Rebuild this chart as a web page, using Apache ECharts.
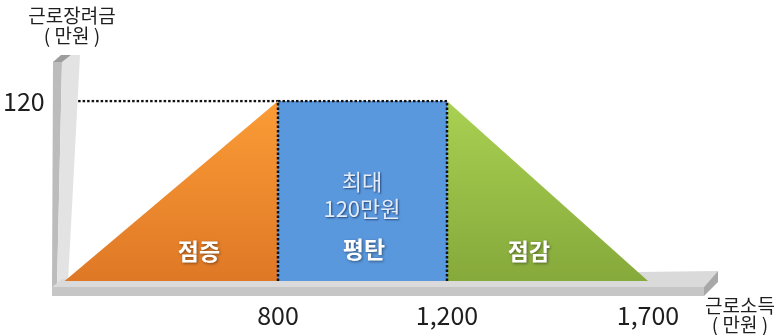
<!DOCTYPE html>
<html>
<head>
<meta charset="utf-8">
<script src="https://cdn.jsdelivr.net/npm/echarts@6/dist/echarts.min.js"></script>
<style>
  html, body { margin: 0; padding: 0; background: #fff; }
  #chart { width: 779px; height: 335px; }
</style>
</head>
<body>
<div id="chart"></div>
<script>
// Income thresholds (만원): phase-in start, plateau start, plateau end, phase-out end
const incomeBreaks = [0, 800, 1200, 1700];
// Credit (만원) at each threshold
const creditAmounts = [0, 120, 120, 0];
// Phase names for the three segments
const phaseNames = ['점증', '평탄', '점감'];
// Tick values shown on the axes
const incomeTicks = [800, 1200, 1700];
const creditTicks = [120];

const FONT = '"Noto Sans CJK KR", "Noto Sans", sans-serif';
const chart = echarts.init(document.getElementById('chart'), null, { renderer: 'canvas' });

// Each phase gets its own panel so the schematic widths can differ
const panels = [
  { left: 63, width: 215 },
  { left: 278, width: 169 },
  { left: 447, width: 201 }
];
const PLOT_TOP = 101, PLOT_H = 180;

const fills = [
  new echarts.graphic.LinearGradient(0, 0, 0, 1, [
    { offset: 0, color: '#fb9c36' }, { offset: 1, color: '#df7826' }]),
  '#5a98de',
  new echarts.graphic.LinearGradient(0, 0, 0, 1, [
    { offset: 0, color: '#a9d152' }, { offset: 1, color: '#86a93b' }])
];

const grid = panels.map(p => ({ left: p.left, width: p.width, top: PLOT_TOP, height: PLOT_H }));

const xAxis = panels.map((p, i) => ({
  type: 'value',
  gridIndex: i,
  min: incomeBreaks[i],
  max: incomeBreaks[i + 1],
  axisLine: { show: false },
  axisTick: { show: false },
  splitLine: { show: false },
  axisLabel: {
    customValues: incomeTicks.filter(v => v === incomeBreaks[i + 1]),
    formatter: v => Number(v).toLocaleString('en-US'),
    fontFamily: FONT, fontSize: 25, color: '#1e1e1e', margin: 22
  }
}));

const yAxis = panels.map((p, i) => ({
  type: 'value',
  gridIndex: i,
  min: 0,
  max: Math.max(...creditAmounts),
  show: i === 0,
  axisLine: { show: false },
  axisTick: { show: false },
  splitLine: { show: false },
  axisLabel: {
    customValues: creditTicks,
    fontFamily: FONT, fontSize: 25, color: '#1e1e1e', margin: 20
  }
}));

const series = [];
// Phase areas
panels.forEach((p, i) => {
  series.push({
    type: 'line',
    xAxisIndex: i, yAxisIndex: i,
    data: [[incomeBreaks[i], creditAmounts[i]], [incomeBreaks[i + 1], creditAmounts[i + 1]]],
    symbol: 'none',
    lineStyle: { width: 0, opacity: 0 },
    areaStyle: { color: fills[i], opacity: 1 },
    silent: true,
    z: 3
  });
});
// Dotted guide from the credit axis to the plateau
series.push({
  type: 'line',
  xAxisIndex: 0, yAxisIndex: 0,
  data: [[incomeBreaks[0], creditAmounts[1]], [incomeBreaks[1], creditAmounts[1]]],
  symbol: 'none',
  lineStyle: { color: '#111', width: 2.5, type: [2.5, 2] },
  silent: true,
  z: 1
});
// Dotted outline of the plateau
series.push({
  type: 'line',
  xAxisIndex: 1, yAxisIndex: 1,
  data: [
    [incomeBreaks[1], creditAmounts[0]],
    [incomeBreaks[1], creditAmounts[1]],
    [incomeBreaks[2], creditAmounts[2]],
    [incomeBreaks[2], creditAmounts[3]]
  ],
  symbol: 'none',
  lineStyle: { color: '#111', width: 2.5, type: [2.5, 2] },
  silent: true,
  z: 4
});

const whiteBold = {
  fill: '#fff', fontFamily: FONT, fontSize: 23, fontWeight: 'bold',
  textAlign: 'center', textVerticalAlign: 'middle',
  textShadowColor: 'rgba(0,0,0,0.45)', textShadowBlur: 3, textShadowOffsetX: 1, textShadowOffsetY: 1
};
const phaseLabelPos = [[199, 251], [364, 249], [529, 251]];

const graphic = [
  // credit-axis wall
  { type: 'polygon', z: 2, shape: { points: [[53, 62], [62, 62], [57, 287], [52, 287]] }, style: { fill: '#bcbcbc' } },
  { type: 'polygon', z: 2, shape: { points: [[62, 62], [71, 55], [80, 55], [68, 282], [57, 287]] }, style: { fill: '#e3e3e3' } },
  { type: 'polygon', z: 2, shape: { points: [[53, 62], [61, 55], [71, 55], [62, 62]] }, style: { fill: '#9c9c9c' } },
  // income-axis floor
  { type: 'polygon', z: 2, shape: { points: [[52, 287], [704, 287], [718, 271], [62, 279]] }, style: { fill: '#dadada' } },
  { type: 'rect', z: 2, shape: { x: 52, y: 287, width: 652, height: 9 }, style: { fill: '#c6c6c6' } },
  { type: 'polygon', z: 2, shape: { points: [[704, 287], [718, 271], [718, 282], [704, 296]] }, style: { fill: '#a8a8a8' } },
  // axis titles
  { type: 'text', z: 5, x: 72, y: 26, style: {
      text: '근로장려금\n( 만원 )', fill: '#1e1e1e', fontFamily: FONT, fontSize: 19, lineHeight: 20,
      textAlign: 'center', textVerticalAlign: 'middle' } },
  { type: 'text', z: 5, x: 740, y: 315, style: {
      text: '근로소득\n( 만원 )', fill: '#1e1e1e', fontFamily: FONT, fontSize: 19, lineHeight: 19,
      textAlign: 'center', textVerticalAlign: 'middle' } },
  // plateau note
  { type: 'text', z: 6, x: 362, y: 195, style: {
      text: '최대\n' + creditAmounts[1] + '만원', fill: '#e4ecf8', fontFamily: FONT, fontSize: 22, lineHeight: 27,
      textAlign: 'center', textVerticalAlign: 'middle',
      textShadowColor: 'rgba(10,30,70,0.7)', textShadowBlur: 2, textShadowOffsetX: 1, textShadowOffsetY: 1 } }
].concat(phaseNames.map((name, i) => ({
  type: 'text', z: 6, x: phaseLabelPos[i][0], y: phaseLabelPos[i][1],
  style: Object.assign({ text: name }, whiteBold)
})));

chart.setOption({
  animation: false,
  backgroundColor: '#fff',
  grid, xAxis, yAxis, series, graphic
});
</script>
</body>
</html>
